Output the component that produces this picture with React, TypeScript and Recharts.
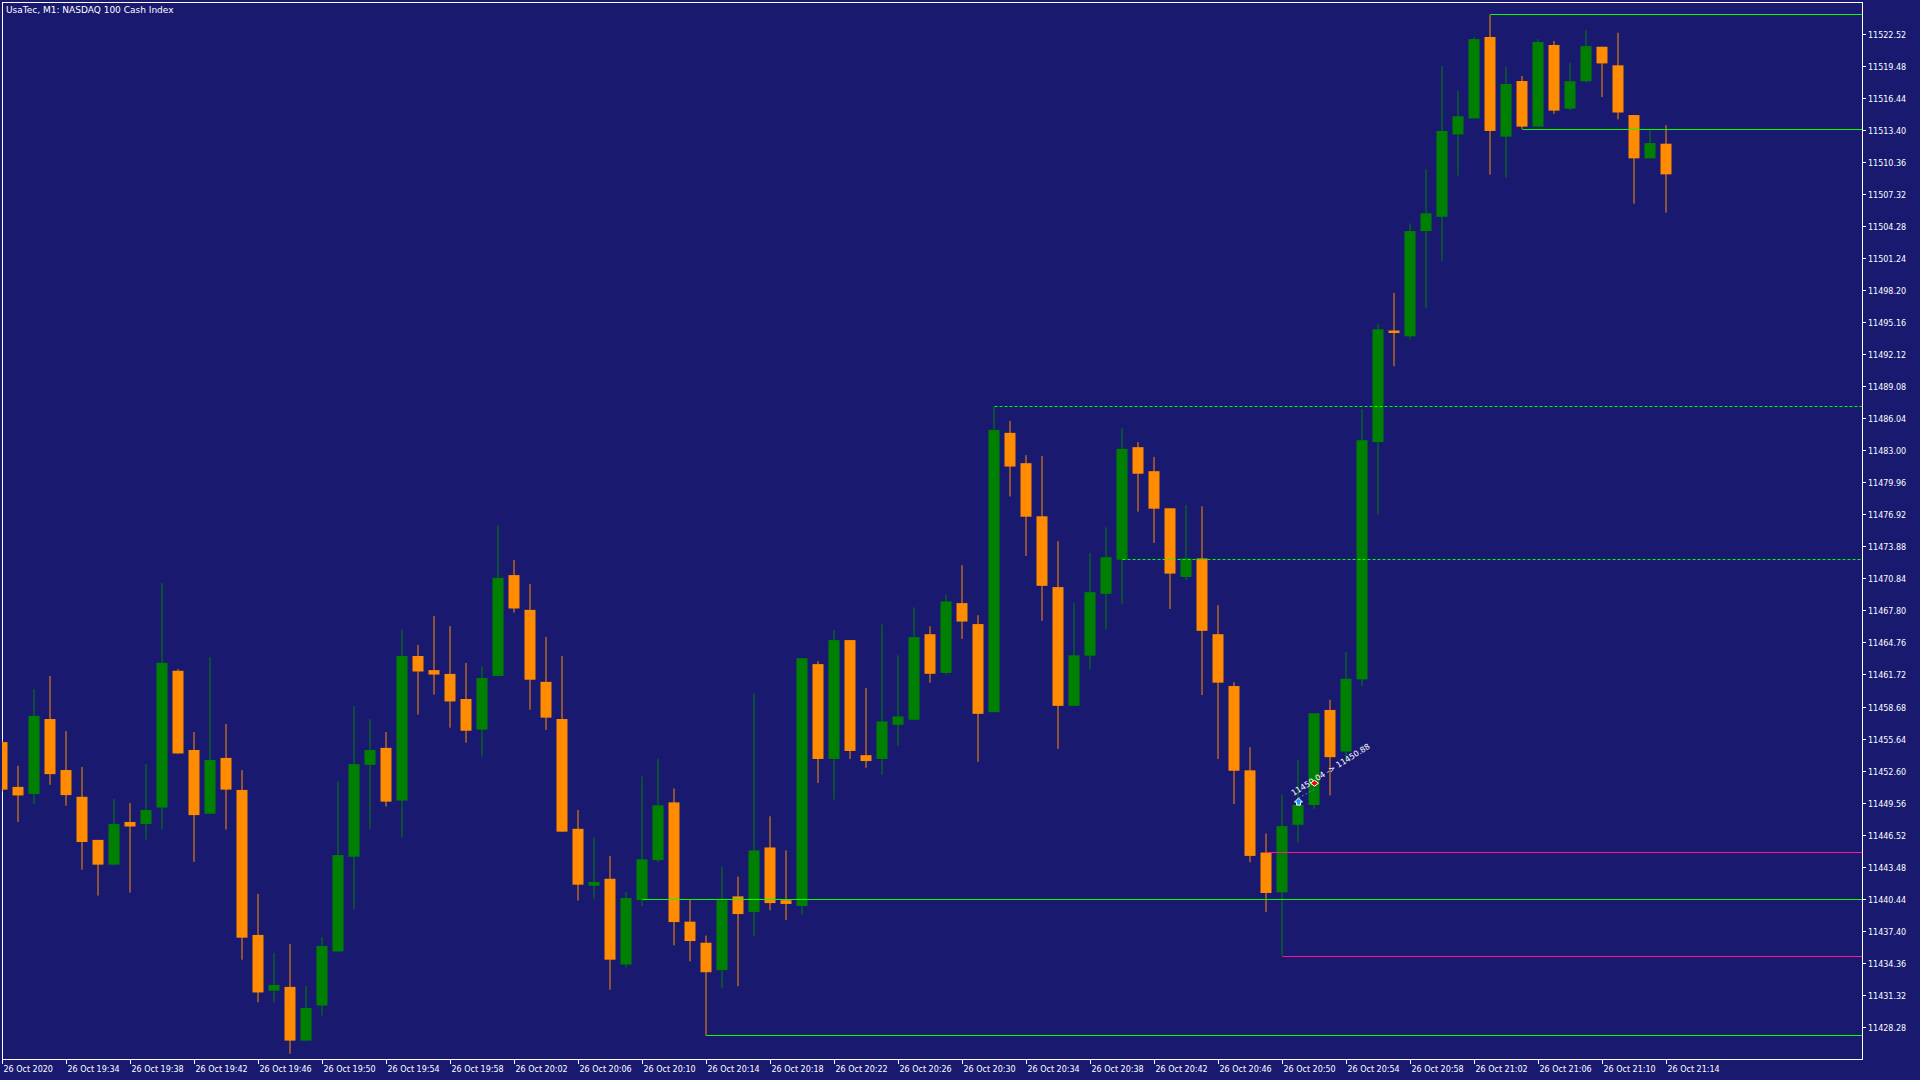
import {
  ComposedChart, Bar, XAxis, YAxis, ReferenceLine, ReferenceArea, ReferenceDot, Customized,
} from 'recharts'

// UsaTec M1 candles, 26 Oct 2020 19:30 .. 21:14 (one per minute)
const OPEN = [
  11455.35, 11451.10, 11450.42, 11457.54, 11452.70, 11450.16, 11446.07, 11443.72, 11447.77, 11447.57,
  11449.14, 11462.12, 11454.60, 11448.55, 11453.85, 11450.81, 11437.05, 11431.76, 11432.12, 11427.02,
  11430.35, 11435.48, 11444.47, 11453.19, 11454.80, 11449.80, 11463.52, 11462.18, 11461.82, 11459.44,
  11456.53, 11461.63, 11471.20, 11467.90, 11461.07, 11457.54, 11447.12, 11441.72, 11442.38, 11434.24,
  11440.35, 11444.15, 11449.63, 11438.31, 11436.31, 11433.71, 11440.71, 11439.23, 11445.35, 11440.35,
  11439.79, 11462.75, 11453.75, 11465.03, 11454.11, 11453.75, 11456.99, 11457.47, 11465.59, 11461.91,
  11468.54, 11466.55, 11458.19, 11484.70, 11481.82, 11476.78, 11470.06, 11458.79, 11463.55, 11469.42,
  11472.66, 11483.34, 11481.06, 11477.54, 11471.02, 11472.78, 11465.59, 11460.67, 11452.67, 11444.87,
  11441.09, 11447.50, 11449.38, 11458.40, 11454.46, 11461.30, 11483.82, 11494.41, 11493.86, 11503.85,
  11505.20, 11513.02, 11514.54, 11522.27, 11512.81, 11518.09, 11513.76, 11521.51, 11515.47, 11518.07,
  11521.34, 11519.58, 11514.86, 11510.75, 11512.14,
]
const HIGH = [
  11455.60, 11453.10, 11460.38, 11461.63, 11456.40, 11453.00, 11446.07, 11449.96, 11449.57, 11453.26,
  11470.45, 11462.28, 11456.30, 11463.42, 11457.08, 11452.70, 11440.94, 11435.35, 11436.20, 11432.21,
  11436.85, 11451.66, 11458.78, 11457.54, 11456.30, 11466.01, 11464.57, 11467.31, 11466.36, 11462.87,
  11462.57, 11475.94, 11472.64, 11470.35, 11465.32, 11463.52, 11448.91, 11446.36, 11444.53, 11441.14,
  11452.11, 11453.79, 11450.95, 11440.35, 11436.99, 11443.55, 11442.59, 11459.99, 11448.31, 11445.07,
  11463.31, 11463.03, 11465.99, 11465.03, 11460.47, 11466.55, 11463.59, 11468.14, 11466.35, 11469.31,
  11472.14, 11467.39, 11487.22, 11485.82, 11482.58, 11482.50, 11474.42, 11468.54, 11473.30, 11475.74,
  11485.14, 11483.82, 11482.42, 11477.54, 11477.86, 11477.74, 11468.34, 11461.03, 11454.87, 11446.67,
  11450.35, 11453.68, 11458.09, 11459.37, 11463.90, 11486.96, 11495.07, 11497.98, 11504.57, 11509.72,
  11519.52, 11517.15, 11522.26, 11524.42, 11519.42, 11518.57, 11522.08, 11521.89, 11519.83, 11522.91,
  11521.34, 11522.67, 11514.86, 11513.47, 11513.89,
]
const LOW = [
  11450.60, 11447.77, 11449.47, 11451.30, 11449.31, 11443.23, 11440.78, 11443.72, 11441.07, 11446.10,
  11447.05, 11454.27, 11443.98, 11448.55, 11447.05, 11434.70, 11430.65, 11430.65, 11425.78, 11427.02,
  11429.40, 11435.48, 11439.50, 11447.12, 11449.24, 11446.30, 11457.97, 11459.86, 11456.72, 11455.29,
  11453.98, 11461.63, 11467.64, 11458.42, 11456.50, 11446.85, 11440.32, 11440.42, 11431.85, 11433.95,
  11439.79, 11443.95, 11436.07, 11434.55, 11427.47, 11431.99, 11432.19, 11436.91, 11439.39, 11438.47,
  11438.95, 11451.47, 11449.87, 11453.75, 11452.91, 11452.23, 11454.99, 11457.47, 11460.99, 11461.75,
  11465.15, 11453.47, 11458.19, 11478.66, 11473.02, 11466.87, 11454.71, 11458.79, 11462.23, 11466.03,
  11468.42, 11477.22, 11474.26, 11467.98, 11470.74, 11459.82, 11453.75, 11449.47, 11443.95, 11439.23,
  11435.04, 11445.81, 11449.02, 11450.29, 11453.68, 11460.64, 11476.98, 11491.02, 11493.56, 11496.52,
  11501.03, 11509.11, 11514.54, 11509.20, 11508.92, 11513.51, 11513.76, 11514.99, 11515.29, 11517.95,
  11516.56, 11514.44, 11506.45, 11510.75, 11505.60,
]
const CLOSE = [
  11450.84, 11450.29, 11457.84, 11452.31, 11450.32, 11445.87, 11443.72, 11447.57, 11447.34, 11448.91,
  11462.87, 11454.27, 11448.42, 11453.65, 11450.84, 11436.79, 11431.59, 11432.31, 11427.02, 11430.12,
  11436.00, 11444.63, 11453.26, 11454.60, 11449.70, 11463.52, 11462.05, 11461.76, 11459.21, 11456.43,
  11461.43, 11470.94, 11468.03, 11461.27, 11457.67, 11446.85, 11441.82, 11442.08, 11434.70, 11440.55,
  11444.23, 11449.35, 11438.27, 11436.47, 11433.51, 11440.35, 11439.03, 11445.07, 11440.07, 11439.99,
  11463.31, 11453.75, 11465.03, 11454.51, 11453.55, 11457.31, 11457.79, 11465.31, 11461.83, 11468.70,
  11466.79, 11458.03, 11484.98, 11481.50, 11476.74, 11470.18, 11458.79, 11463.59, 11469.58, 11472.90,
  11483.18, 11480.82, 11477.50, 11471.34, 11472.78, 11465.91, 11460.99, 11452.63, 11444.55, 11441.03,
  11447.38, 11449.38, 11458.09, 11453.92, 11461.36, 11484.00, 11494.53, 11494.17, 11503.85, 11505.54,
  11513.35, 11514.75, 11522.07, 11513.35, 11517.81, 11513.76, 11521.79, 11515.28, 11518.07, 11521.40,
  11519.76, 11515.10, 11510.75, 11512.20, 11509.23,
]

const PRICE_TICKS = [
  11428.28, 11431.32, 11434.36, 11437.40, 11440.44, 11443.48, 11446.52, 11449.56, 11452.60, 11455.64,
  11458.68, 11461.72, 11464.76, 11467.80, 11470.84, 11473.88, 11476.92, 11479.96, 11483.00, 11486.04,
  11489.08, 11492.12, 11495.16, 11498.20, 11501.24, 11504.28, 11507.32, 11510.36, 11513.40, 11516.44,
  11519.48, 11522.52,
]
// bar index of each time label
const TIME_TICKS = [0, 4, 8, 12, 16, 20, 24, 28, 32, 36, 40, 44, 48, 52, 56, 60, 64, 68, 72, 76, 80, 84, 88, 92, 96, 100, 104]
const TIME_LABELS = [
  '26 Oct 2020', '26 Oct 19:34', '26 Oct 19:38', '26 Oct 19:42', '26 Oct 19:46', '26 Oct 19:50',
  '26 Oct 19:54', '26 Oct 19:58', '26 Oct 20:02', '26 Oct 20:06', '26 Oct 20:10', '26 Oct 20:14',
  '26 Oct 20:18', '26 Oct 20:22', '26 Oct 20:26', '26 Oct 20:30', '26 Oct 20:34', '26 Oct 20:38',
  '26 Oct 20:42', '26 Oct 20:46', '26 Oct 20:50', '26 Oct 20:54', '26 Oct 20:58', '26 Oct 21:02',
  '26 Oct 21:06', '26 Oct 21:10', '26 Oct 21:14',
]

// horizontal levels drawn from a bar to the right edge
const LEVEL_FROM = [62, 70, 40, 44, 79, 80, 95, 93]
const LEVEL_PRICE = [11487.22, 11472.66, 11440.42, 11427.47, 11444.90, 11435.04, 11513.51, 11524.42]
const LEVEL_KIND = ['dash', 'dash', 'line', 'line', 'pink', 'pink', 'line', 'line']

// the closed trade shown on the chart
const TRADE_FROM = [81, 11450.04]
const TRADE_TO = [82, 11450.88]

const X_DOMAIN: [number, number] = [-0.03125, 116.21875]
const Y_DOMAIN: [number, number] = [11425.275, 11525.588]

const BG = '#191970'
const BULL = '#008000'
const BEAR = '#FF8C00'
const FONT = 'DejaVu Sans'

const LEVEL_STYLE: Record<string, { stroke: string; strokeDasharray?: string }> = {
  dash: { stroke: '#00FF00', strokeDasharray: '3 2' },
  line: { stroke: '#00FF00' },
  pink: { stroke: '#FF1493' },
}

const candles = OPEN.map((open, i) => ({ i, open, high: HIGH[i], low: LOW[i], close: CLOSE[i] }))

function Candle(props: any) {
  const { x, y, width, height } = props
  const d = props.payload ?? props
  const color = d.close >= d.open ? BULL : BEAR
  const ppu = height / (d.high - d.low || 1)
  const yOf = (v: number) => y + (d.high - v) * ppu
  const cx = x + width / 2
  const top = yOf(Math.max(d.open, d.close))
  const bottom = yOf(Math.min(d.open, d.close))
  return (
    <g>
      <line x1={cx} x2={cx} y1={y} y2={y + height} stroke={color} strokeWidth={1} />
      <rect x={x} y={top} width={width} height={Math.max(1, bottom - top)} fill={color} />
    </g>
  )
}

// snap horizontal levels to the pixel row they fall in so they stay crisp
function LevelShape(props: any) {
  const y = Math.floor(props.y1) + 0.5
  return (
    <line
      x1={props.x1} x2={props.x2} y1={y} y2={y}
      stroke={props.stroke} strokeWidth={1} strokeDasharray={props.strokeDasharray}
    />
  )
}

function PriceTick({ x, y, payload }: any) {
  const ty = Math.floor(y) + 0.5
  return (
    <g>
      <line x1={x} y1={ty} x2={x + 4} y2={ty} stroke="#fff" />
      <text x={x + 6} y={ty + 3} fill="#fff" fontSize={8} fontFamily={FONT}>
        {Number(payload.value).toFixed(2)}
      </text>
    </g>
  )
}

function TimeTick({ x, y, payload }: any) {
  const k = TIME_TICKS.indexOf(payload.value)
  return (
    <g>
      <line x1={x} y1={y} x2={x} y2={y + 5} stroke="#fff" />
      <text x={x + 1} y={y + 13} fill="#fff" fontSize={8} fontFamily={FONT}>
        {TIME_LABELS[k]}
      </text>
    </g>
  )
}

function Frame(props: any) {
  return <rect x={props.x + 0.5} y={props.y + 0.5} width={props.width} height={props.height} fill="none" stroke="#fff" />
}

function BuyMark({ cx, cy }: any) {
  const y = cy + 4
  return (
    <g>
      <polygon
        points={`${cx},${y - 4} ${cx + 4},${y} ${cx + 2},${y} ${cx + 2},${y + 3} ${cx - 2},${y + 3} ${cx - 2},${y} ${cx - 4},${y}`}
        fill="#1E90FF" stroke="#fff" strokeWidth={1}
      />
      <text
        x={cx - 5} y={cy - 2} fill="#fff" fontSize={8} fontFamily={FONT}
        transform={`rotate(-32 ${cx - 5} ${cy - 2})`}
      >
        {`${TRADE_FROM[1].toFixed(2)} -> ${TRADE_TO[1].toFixed(2)}`}
      </text>
    </g>
  )
}

function SellMark({ cx, cy }: any) {
  const y = cy - 6
  return (
    <polygon
      points={`${cx - 4},${y} ${cx},${y - 3} ${cx + 4},${y} ${cx},${y + 3}`}
      fill="#FF0000" stroke="#fff" strokeWidth={1}
    />
  )
}

function Title() {
  return (
    <text x={6} y={12.5} fill="#fff" fontSize={9} fontFamily={FONT}>
      UsaTec, M1:  NASDAQ 100 Cash Index
    </text>
  )
}

export default function App() {
  return (
    <div style={{ position: 'absolute', left: 0, top: 0, width: 1920, height: 1080, background: BG }}>
      <ComposedChart
        width={1920}
        height={1080}
        data={candles}
        margin={{ top: 2, right: 0, left: 2, bottom: 0 }}
      >
        <XAxis
          dataKey="i"
          type="number"
          domain={X_DOMAIN}
          allowDataOverflow
          ticks={TIME_TICKS}
          interval={0}
          tick={<TimeTick />}
          tickSize={0}
          tickMargin={0}
          axisLine={false}
          height={21}
        />
        <YAxis
          orientation="right"
          type="number"
          domain={Y_DOMAIN}
          allowDataOverflow
          ticks={PRICE_TICKS}
          interval={0}
          tick={<PriceTick />}
          tickSize={0}
          tickMargin={0}
          axisLine={false}
          width={58}
        />
        <Bar
          dataKey={(d: any) => [d.low, d.high]}
          barSize={11}
          shape={Candle}
          isAnimationActive={false}
        />
        {LEVEL_FROM.map((from, k) => (
          <ReferenceLine
            key={k}
            segment={[{ x: from, y: LEVEL_PRICE[k] }, { x: X_DOMAIN[1], y: LEVEL_PRICE[k] }]}
            strokeWidth={1}
            shape={LevelShape}
            {...LEVEL_STYLE[LEVEL_KIND[k]]}
          />
        ))}
        <ReferenceLine
          segment={[{ x: TRADE_FROM[0], y: TRADE_FROM[1] }, { x: TRADE_TO[0], y: TRADE_TO[1] }]}
          stroke="#1E90FF"
          strokeDasharray="2 2"
        />
        <ReferenceDot x={TRADE_FROM[0]} y={TRADE_FROM[1]} r={4} shape={BuyMark} />
        <ReferenceDot x={TRADE_TO[0]} y={TRADE_TO[1]} r={4} shape={SellMark} />
        <ReferenceArea x1={X_DOMAIN[0]} x2={X_DOMAIN[1]} y1={Y_DOMAIN[0]} y2={Y_DOMAIN[1]} shape={Frame} />
        <Customized component={<Title />} />
      </ComposedChart>
    </div>
  )
}
